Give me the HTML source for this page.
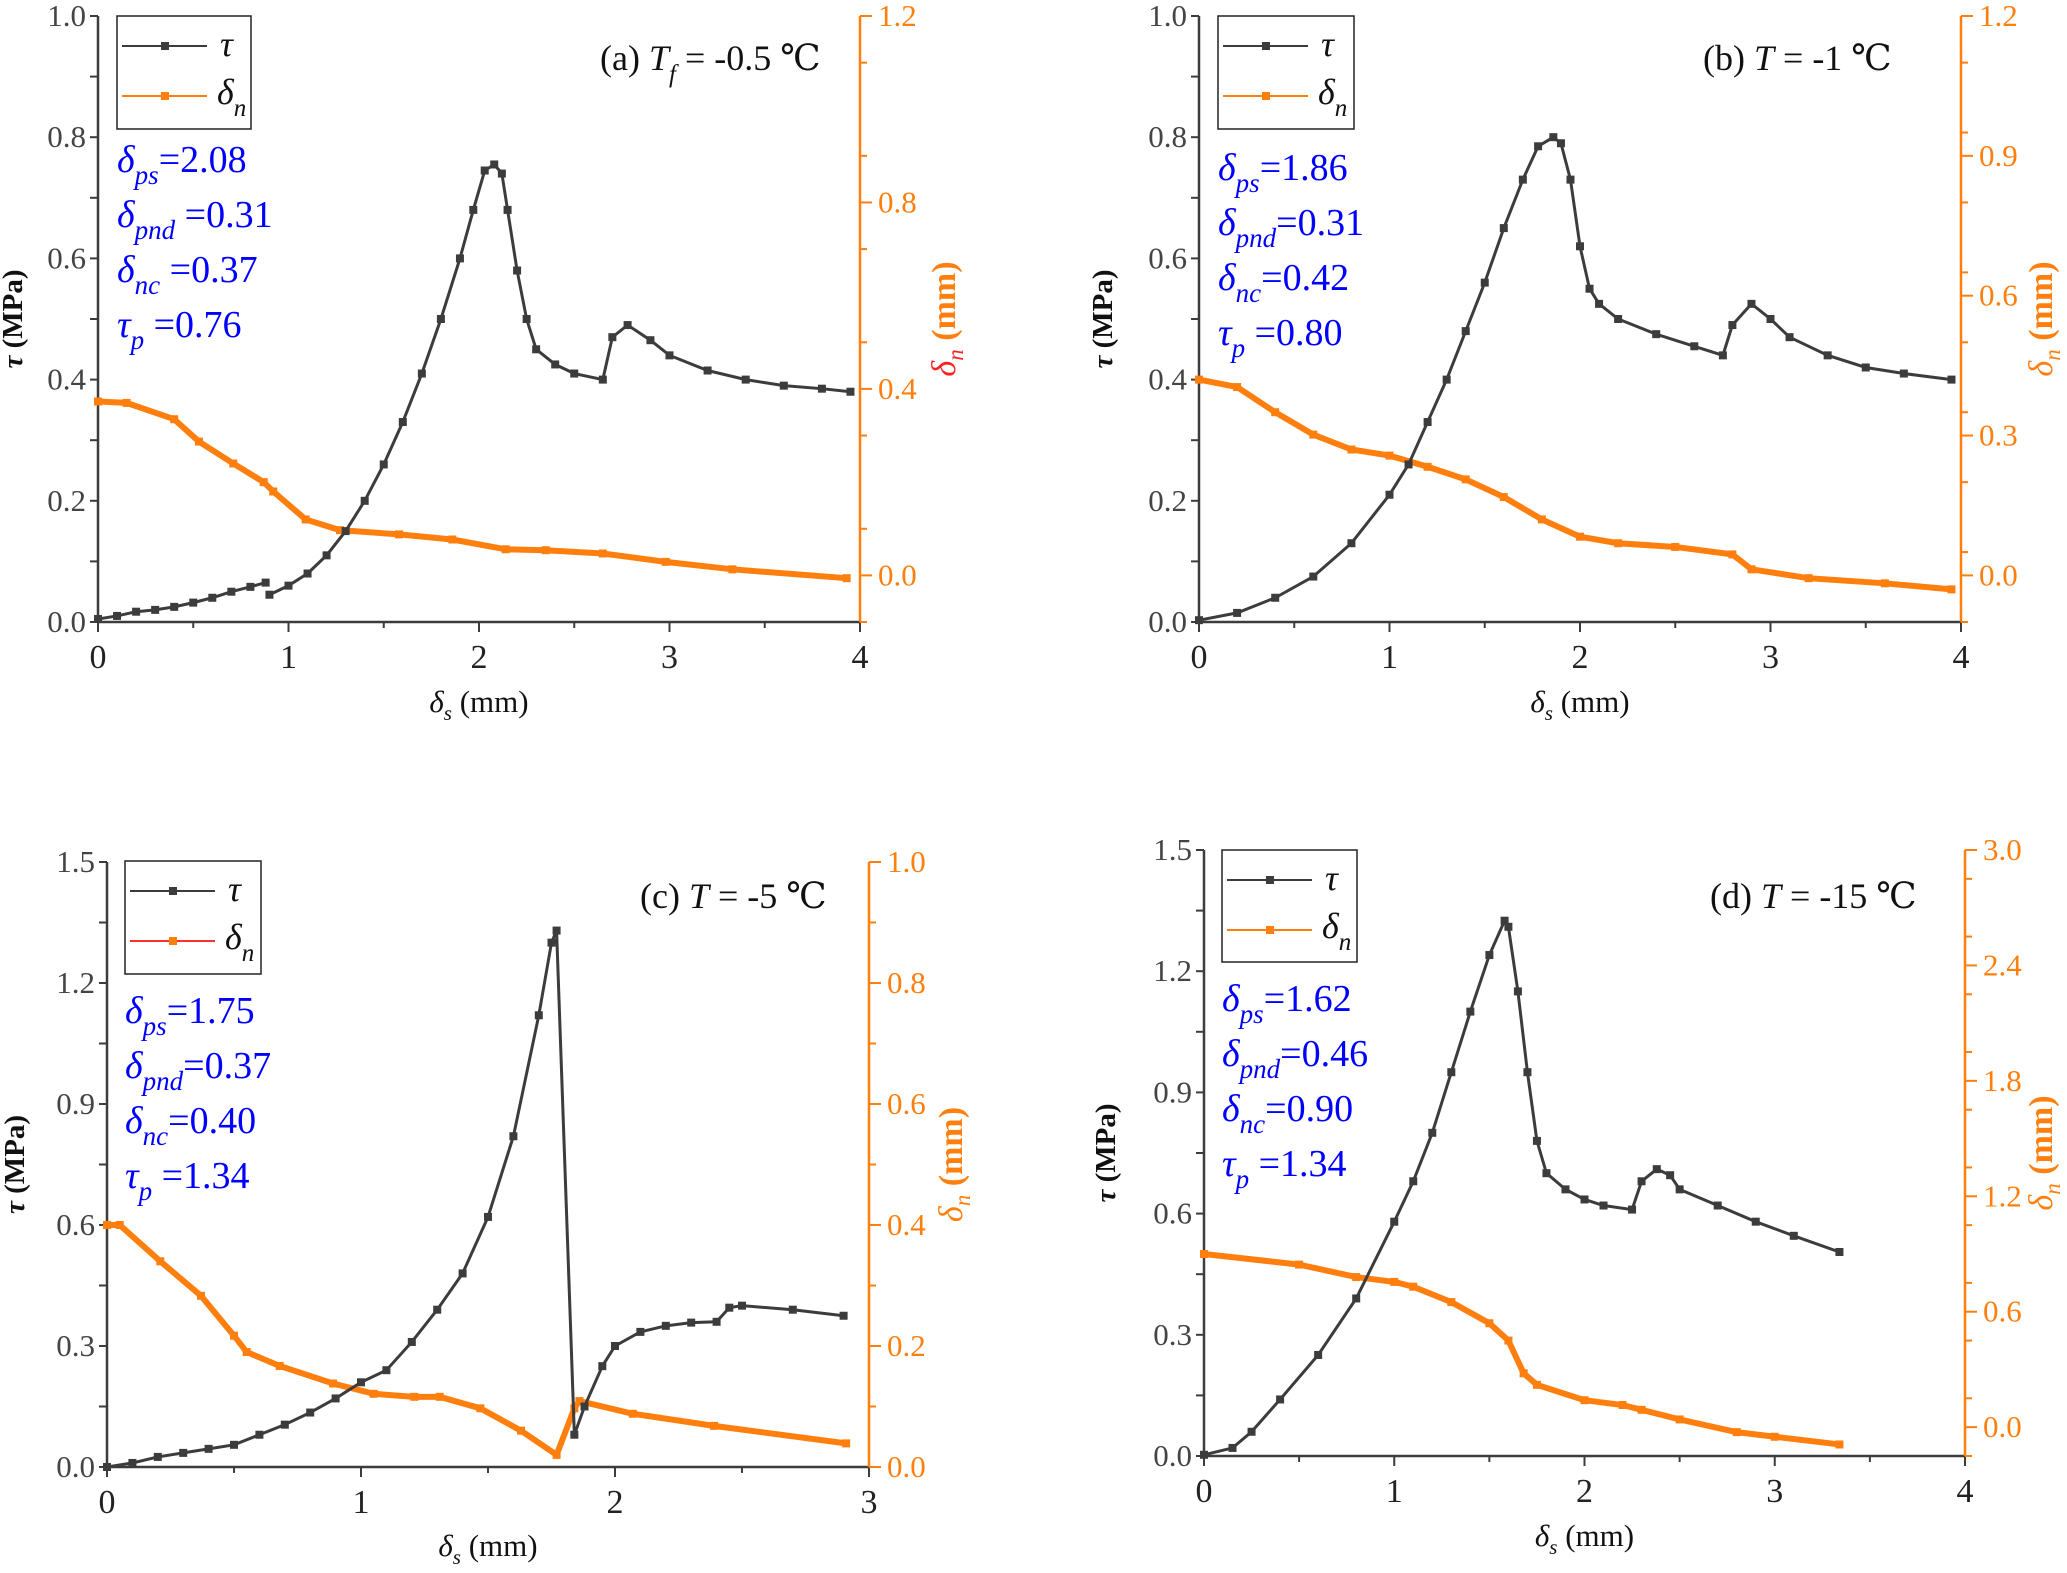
<!DOCTYPE html>
<html><head><meta charset="utf-8"><style>
html,body{margin:0;padding:0;background:#fff;}
svg{display:block;font-family:"Liberation Serif","DejaVu Serif",serif;}
svg text{font-family:"Liberation Serif","DejaVu Serif",serif;}
</style></head><body>
<svg id="fig" width="2067" height="1573" viewBox="0 0 2067 1573" xmlns="http://www.w3.org/2000/svg" font-family="Liberation Serif, serif"></svg>
<script>
// ---- data ----
const aTauX=[0,0.1,0.2,0.3,0.4,0.5,0.6,0.7,0.8,0.88,0.9,1.0,1.1,1.2,1.3,1.4,1.5,1.6,1.7,1.8,1.9,1.97,2.03,2.08,2.12,2.15,2.2,2.25,2.3,2.4,2.5,2.65,2.7,2.78,2.9,3.0,3.2,3.4,3.6,3.8,3.95];
const aTauY=[0.005,0.01,0.017,0.02,0.025,0.032,0.04,0.05,0.058,0.065,0.045,0.06,0.08,0.11,0.15,0.2,0.26,0.33,0.41,0.5,0.6,0.68,0.745,0.755,0.74,0.68,0.58,0.5,0.45,0.425,0.41,0.4,0.47,0.49,0.465,0.44,0.415,0.4,0.39,0.385,0.38];
const aDnX=[0,0.15,0.4,0.53,0.71,0.87,0.92,1.09,1.27,1.58,1.86,2.14,2.35,2.65,2.98,3.33,3.93];
const aDnY=[0.373,0.37,0.335,0.287,0.24,0.2,0.18,0.12,0.097,0.088,0.077,0.056,0.054,0.047,0.029,0.013,-0.006];
const bTauX=[0,0.2,0.4,0.6,0.8,1.0,1.1,1.2,1.3,1.4,1.5,1.6,1.7,1.78,1.86,1.9,1.95,2.0,2.05,2.1,2.2,2.4,2.6,2.75,2.8,2.9,3.0,3.1,3.3,3.5,3.7,3.95];
const bTauY=[0.003,0.015,0.04,0.075,0.13,0.21,0.26,0.33,0.4,0.48,0.56,0.65,0.73,0.785,0.8,0.79,0.73,0.62,0.55,0.525,0.5,0.475,0.455,0.44,0.49,0.525,0.5,0.47,0.44,0.42,0.41,0.4];
const bDnX=[0,0.2,0.4,0.6,0.8,1.0,1.2,1.4,1.6,1.8,2.0,2.2,2.5,2.8,2.9,3.2,3.6,3.95];
const bDnY=[0.42,0.404,0.35,0.302,0.27,0.257,0.233,0.206,0.168,0.12,0.083,0.069,0.061,0.045,0.013,-0.006,-0.017,-0.03];
const cTauX=[0,0.1,0.2,0.3,0.4,0.5,0.6,0.7,0.8,0.9,1.0,1.1,1.2,1.3,1.4,1.5,1.6,1.7,1.75,1.77,1.84,1.88,1.95,2.0,2.1,2.2,2.3,2.4,2.45,2.5,2.7,2.9];
const cTauY=[0,0.01,0.025,0.035,0.045,0.055,0.08,0.105,0.135,0.17,0.21,0.24,0.31,0.39,0.48,0.62,0.82,1.12,1.3,1.33,0.08,0.15,0.25,0.3,0.335,0.35,0.358,0.36,0.395,0.4,0.39,0.375];
const cDnX=[0,0.05,0.21,0.37,0.5,0.55,0.68,0.89,1.05,1.21,1.31,1.47,1.63,1.77,1.84,1.86,2.07,2.39,2.91];
const cDnY=[0.4,0.4,0.34,0.283,0.217,0.19,0.167,0.138,0.121,0.116,0.116,0.097,0.06,0.02,0.097,0.109,0.088,0.068,0.039];
const dTauX=[0,0.15,0.25,0.4,0.6,0.8,1.0,1.1,1.2,1.3,1.4,1.5,1.58,1.6,1.65,1.7,1.75,1.8,1.9,2.0,2.1,2.25,2.3,2.38,2.45,2.5,2.7,2.9,3.1,3.34];
const dTauY=[0.003,0.02,0.06,0.14,0.25,0.39,0.58,0.68,0.8,0.95,1.1,1.24,1.325,1.31,1.15,0.95,0.78,0.7,0.66,0.635,0.62,0.61,0.68,0.71,0.695,0.66,0.62,0.58,0.545,0.505];
const dDnX=[0,0.5,0.8,1.0,1.1,1.3,1.5,1.6,1.68,1.75,2.0,2.2,2.3,2.5,2.8,3.0,3.34];
const dDnY=[0.9,0.845,0.78,0.755,0.73,0.65,0.54,0.45,0.28,0.22,0.14,0.115,0.09,0.04,-0.026,-0.05,-0.09];
const aLeftTicks=["0.0","0.2","0.4","0.6","0.8","1.0"];
const aRightTicks=["0.0","0.4","0.8","1.2"];
const bRightTicks=["0.0","0.3","0.6","0.9","1.2"];
const cLeftTicks=["0.0","0.3","0.6","0.9","1.2","1.5"];
const cRightTicks=["0.0","0.2","0.4","0.6","0.8","1.0"];
const dRightTicks=["0.0","0.6","1.2","1.8","2.4","3.0"];
const xTicks4=["0","1","2","3","4"];
const xTicks3=["0","1","2","3"];

const NS="http://www.w3.org/2000/svg";
const svg=document.getElementById('fig');
const OR="#ff7f0e", GR="#3c3c3c";
const FF='Liberation Serif, DejaVu Serif, serif';
function mk(tag,attrs,parent){const e=document.createElementNS(NS,tag);for(const k in attrs)e.setAttribute(k,attrs[k]);if(tag==='text')e.setAttribute('font-family',FF);(parent||svg).appendChild(e);return e;}

const panels=[
 {id:'a',L:98,R:860,T:16,B:622,xmax:4,xt:xTicks4,xminor:0.5,lmin:0,lmax:1,lt:aLeftTicks,lminor:0.1,rmin:-0.1,rmax:1.2,rt:aRightTicks,rminor:0.2,
  tx:aTauX,ty:aTauY,dx:aDnX,dy:aDnY,brk:10,leg:[117,16,251,129],dnLeg:OR,title:['(a) ','T','f',' = -0.5 ℃'],titleX:600,titleY:70,
  ann:[['δ','ps','=2.08'],['δ','pnd',' =0.31'],['δ','nc',' =0.37'],['τ','p',' =0.76']],annX:117,annY:172,ylx:22,rlx:955,xly:712,rdRed:true},
 {id:'b',L:1199,R:1961,T:16,B:622,xmax:4,xt:xTicks4,xminor:0.5,lmin:0,lmax:1,lt:aLeftTicks,lminor:0.1,rmin:-0.1,rmax:1.2,rt:bRightTicks,rminor:0.15,
  tx:bTauX,ty:bTauY,dx:bDnX,dy:bDnY,leg:[1218,16,1354,129],dnLeg:OR,title:['(b) ','T','',' = -1 ℃'],titleX:1703,titleY:70,
  ann:[['δ','ps','=1.86'],['δ','pnd','=0.31'],['δ','nc','=0.42'],['τ','p',' =0.80']],annX:1218,annY:180,ylx:1112,rlx:2052,xly:712},
 {id:'c',L:107,R:869,T:862,B:1467,xmax:3,xt:xTicks3,xminor:0.5,lmin:0,lmax:1.5,lt:cLeftTicks,lminor:0.15,rmin:0,rmax:1,rt:cRightTicks,rminor:0.1,
  tx:cTauX,ty:cTauY,dx:cDnX,dy:cDnY,leg:[125,861,261,974],dnLeg:'#ff3030',title:['(c) ','T','',' = -5 ℃'],titleX:640,titleY:908,
  ann:[['δ','ps','=1.75'],['δ','pnd','=0.37'],['δ','nc','=0.40'],['τ','p',' =1.34']],annX:125,annY:1023,ylx:24,rlx:962,xly:1556},
 {id:'d',L:1204,R:1965,T:850,B:1456,xmax:4,xt:xTicks4,xminor:0.5,lmin:0,lmax:1.5,lt:cLeftTicks,lminor:0.15,rmin:-0.15,rmax:3,rt:dRightTicks,rminor:0.3,
  tx:dTauX,ty:dTauY,dx:dDnX,dy:dDnY,leg:[1222,850,1357,962],dnLeg:OR,title:['(d) ','T','',' = -15 ℃'],titleX:1710,titleY:908,
  ann:[['δ','ps','=1.62'],['δ','pnd','=0.46'],['δ','nc','=0.90'],['τ','p',' =1.34']],annX:1222,annY:1011,ylx:1115,rlx:2052,xly:1546}
];

panels.forEach(p=>{
 const g=mk('g',{});  
 const sx=v=>p.L+(v/p.xmax)*(p.R-p.L);
 const sl=v=>p.B-(v-p.lmin)/(p.lmax-p.lmin)*(p.B-p.T);
 const sr=v=>p.B-(v-p.rmin)/(p.rmax-p.rmin)*(p.B-p.T);
 let e=mk('line',{x1:p.L,y1:p.T,x2:p.L,y2:p.B,stroke:GR,'stroke-width':2.5},g);  
 e=mk('line',{x1:p.L,y1:p.B,x2:p.R,y2:p.B,stroke:GR,'stroke-width':2.5},g);  
 e=mk('line',{x1:p.R,y1:p.T,x2:p.R,y2:p.B,stroke:OR,'stroke-width':2.5},g);  
 for(let v=0;v<=p.xmax+1e-9;v+=p.xminor){const maj=Math.abs(v-Math.round(v))<1e-9;mk('line',{x1:sx(v),y1:p.B,x2:sx(v),y2:p.B+(maj?10:6),stroke:GR,'stroke-width':2},g);}
 p.xt.forEach((t,i)=>{e=mk('text',{x:sx(i),y:p.B+46,'font-size':34,'text-anchor':'middle',fill:'#222'},g);e.textContent=t;});
 for(let v=p.lmin;v<=p.lmax+1e-9;v+=p.lminor){mk('line',{x1:p.L,y1:sl(v),x2:p.L-8,y2:sl(v),stroke:GR,'stroke-width':2},g);}
 p.lt.forEach(t=>{const v=parseFloat(t);e=mk('text',{x:p.L-12,y:sl(v)+10,'font-size':31,'text-anchor':'end',fill:'#444'},g);e.textContent=t;});
 for(let v=p.rmin;v<=p.rmax+1e-9;v+=p.rminor){mk('line',{x1:p.R,y1:sr(v),x2:p.R+7,y2:sr(v),stroke:OR,'stroke-width':2},g);}
 p.rt.forEach(t=>{const v=parseFloat(t);mk('line',{x1:p.R,y1:sr(v),x2:p.R+12,y2:sr(v),stroke:OR,'stroke-width':2},g);e=mk('text',{x:p.R+18,y:sr(v)+10,'font-size':31,fill:OR},g);e.textContent=t;});
 e=mk('text',{x:(p.L+p.R)/2,y:p.xly,'font-size':31,'text-anchor':'middle',fill:'#111'},g);
 e.innerHTML='<tspan font-style="italic">δ</tspan><tspan font-style="italic" font-size="21" dy="8">s</tspan><tspan dy="-8"> (mm)</tspan>';
 const cy=(p.T+p.B)/2;
 e=mk('text',{x:p.ylx,y:cy,'font-size':29,'font-weight':'bold','text-anchor':'middle',fill:'#111',transform:`rotate(-90 ${p.ylx} ${cy})`},g);
 e.innerHTML='<tspan font-style="italic">τ</tspan> (MPa)';
 e=mk('text',{x:p.rlx,y:cy,'font-size':34,'font-weight':'bold','text-anchor':'middle',fill:OR,transform:`rotate(-90 ${p.rlx} ${cy})`},g);
 e.innerHTML=`<tspan font-style="italic" font-weight="normal" fill="${p.rdRed?'#ff2020':OR}">δ</tspan><tspan font-style="italic" font-weight="normal" font-size="23" dy="8" fill="${p.rdRed?'#ff2020':OR}">n</tspan><tspan dy="-8"> (mm)</tspan>`;
 // series
 const dpts=p.dx.map((x,i)=>sx(x)+','+sr(p.dy[i])).join(' ');
 e=mk('polyline',{points:dpts,fill:'none',stroke:OR,'stroke-width':6},g);
 p.dx.forEach((x,i)=>{const r=mk('rect',{x:sx(x)-4,y:sr(p.dy[i])-4,width:8,height:8,fill:OR},g);});
 const segs=p.brk?[[0,p.brk],[p.brk,p.tx.length]]:[[0,p.tx.length]];
 segs.forEach(([s,f])=>{
  const tpts=p.tx.slice(s,f).map((x,i)=>sx(x)+','+sl(p.ty[s+i])).join(' ');
  e=mk('polyline',{points:tpts,fill:'none',stroke:GR,'stroke-width':3},g);
 });
 p.tx.forEach((x,i)=>{const r=mk('rect',{x:sx(x)-4,y:sl(p.ty[i])-4,width:8,height:8,fill:GR},g);});
 const [lx1,ly1,lx2,ly2]=p.leg;
 e=mk('rect',{x:lx1,y:ly1,width:lx2-lx1,height:ly2-ly1,fill:'#fff',stroke:'#222','stroke-width':1.5},g);
 const r1=ly1+30, r2=ly1+80;
 mk('line',{x1:lx1+5,y1:r1,x2:lx1+90,y2:r1,stroke:GR,'stroke-width':2},g);mk('rect',{x:lx1+44,y:r1-4,width:8,height:8,fill:GR},g);
 mk('line',{x1:lx1+5,y1:r2,x2:lx1+90,y2:r2,stroke:p.dnLeg,'stroke-width':2},g);mk('rect',{x:lx1+44,y:r2-4,width:8,height:8,fill:OR},g);
 e=mk('text',{x:lx1+103,y:r1+10,'font-size':36,'font-style':'italic',fill:'#111'},g);e.textContent='τ';
 e=mk('text',{x:lx1+100,y:r2+8,'font-size':36,'font-style':'italic',fill:'#111'},g);e.innerHTML='δ<tspan font-size="25" dy="12">n</tspan>';
 e=mk('text',{x:p.titleX,y:p.titleY,'font-size':36,fill:'#111'},g);
 e.innerHTML=`${p.title[0]}<tspan font-style="italic">${p.title[1]}</tspan>`+(p.title[2]?`<tspan font-style="italic" font-size="25" dy="12">${p.title[2]}</tspan><tspan dy="-12">${p.title[3]}</tspan>`:`<tspan>${p.title[3]}</tspan>`);
 p.ann.forEach((a,i)=>{e=mk('text',{x:p.annX,y:p.annY+i*55,'font-size':38,fill:'#0000ff'},g);
  e.innerHTML=`<tspan font-style="italic">${a[0]}</tspan><tspan font-style="italic" font-size="27" dy="12">${a[1]}</tspan><tspan dy="-12">${a[2]}</tspan>`;});
});
</script>
</body></html>
